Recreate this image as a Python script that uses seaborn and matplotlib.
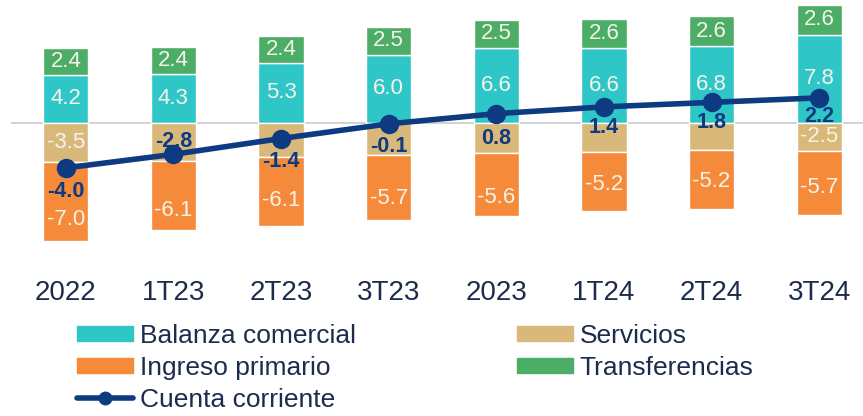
import numpy as np
import seaborn as sns
import matplotlib.pyplot as plt
from matplotlib.lines import Line2D
from matplotlib.patches import Patch

periods = ['2022', '1T23', '2T23', '3T23', '2023', '1T24', '2T24', '3T24']
balanza = [4.2, 4.3, 5.3, 6.0, 6.6, 6.6, 6.8, 7.8]
transferencias = [2.4, 2.4, 2.4, 2.5, 2.5, 2.6, 2.6, 2.6]
servicios = [-3.5, -3.4, -3.0, -2.9, -2.7, -2.6, -2.4, -2.5]
ingreso = [-7.0, -6.1, -6.1, -5.7, -5.6, -5.2, -5.2, -5.7]
cuenta = [-4.0, -2.8, -1.4, -0.1, 0.8, 1.4, 1.8, 2.2]
# servicios labels hidden behind the cuenta corriente labels in most bars
serv_show = [True, False, False, False, False, False, False, True]

# label nudges (points)
cc_off = [-17, 9, -16.5, -16, -18, -15, -14.5, -13.5]
ing_off = [-13, -11, -7, -8, -9, -2, -2, -3]

c_bal = '#2fc6c8'
c_tra = '#4cad66'
c_ser = '#d9b97a'
c_ing = '#f58a3a'
c_cc = '#0d3a80'
c_txt = '#1e2b4c'
c_lab = '#f6f4ea'

sns.set_style('white')
plt.rcParams['font.family'] = ['Liberation Sans', 'DejaVu Sans']

fig = plt.figure(figsize=(8.63, 4.16), dpi=100)
ax = fig.add_axes([12 / 863, 0, 861 / 863, 1])

bw = 0.42
x = np.arange(len(periods))
bal = np.array(balanza)
ser = np.array(servicios)

sns.barplot(x=periods, y=balanza, color=c_bal, width=bw, saturation=1, errorbar=None, ax=ax)
sns.barplot(x=periods, y=transferencias, bottom=bal, color=c_tra, width=bw, saturation=1, errorbar=None, ax=ax)
sns.barplot(x=periods, y=servicios, color=c_ser, width=bw, saturation=1, errorbar=None, ax=ax)
sns.barplot(x=periods, y=ingreso, bottom=ser, color=c_ing, width=bw, saturation=1, errorbar=None, ax=ax)

sns.lineplot(x=x, y=cuenta, color=c_cc, lw=4, marker='o', markersize=14,
             markeredgewidth=0, ax=ax, zorder=5)

# segment labels
for i in range(len(periods)):
    ax.text(i, balanza[i] / 2, f'{balanza[i]:.1f}', ha='center', va='center', color=c_lab, fontsize=16)
    ax.text(i, balanza[i] + transferencias[i] / 2, f'{transferencias[i]:.1f}', ha='center', va='center',
            color=c_lab, fontsize=16)
    if serv_show[i]:
        ax.text(i, servicios[i] / 2, f'{servicios[i]:.1f}', ha='center', va='center', color=c_lab, fontsize=16)
    ax.annotate(f'{ingreso[i]:.1f}', (i, servicios[i] + ingreso[i] / 2), xytext=(0, ing_off[i]),
                textcoords='offset points', ha='center', va='center', color=c_lab, fontsize=16)
    ax.annotate(f'{cuenta[i]:.1f}', (i, cuenta[i]), xytext=(0, cc_off[i]), textcoords='offset points',
                ha='center', va='center', color=c_cc, fontsize=15.5, fontweight='bold', zorder=6)

px_unit = 11.3
ax.set_ylim(-(416 - 122.7) / px_unit, 122.7 / px_unit)
ax.set_xlim(-0.5, len(periods) - 0.5)

for s in ['top', 'right', 'left']:
    ax.spines[s].set_visible(False)
ax.spines['bottom'].set_position(('data', 0))
ax.spines['bottom'].set_color('#cfcfcf')
ax.spines['bottom'].set_linewidth(1.3)
ax.spines['bottom'].set_zorder(0.5)
ax.set_yticks([])
ax.set_xticks(x, periods)
ax.set_xticks(np.arange(len(periods) + 1) - 0.5, minor=True)
ax.tick_params(axis='x', which='major', length=0, pad=113, labelsize=20, labelcolor=c_txt)
ax.tick_params(axis='x', which='minor', length=7, width=1.3, color='#cfcfcf', direction='out')
ax.set_xlabel('')
ax.set_ylabel('')

handles = [
    Patch(color=c_bal, label='Balanza comercial'),
    Patch(color=c_ing, label='Ingreso primario'),
    Line2D([], [], color=c_cc, lw=4, marker='o', markersize=10, markeredgewidth=0, label='Cuenta corriente'),
    Patch(color=c_ser, label='Servicios'),
    Patch(color=c_tra, label='Transferencias'),
]
fig.legend(handles=handles, ncol=2, loc='upper left', bbox_to_anchor=(77 / 863, 1 - 324 / 416),
           frameon=False, fontsize=19, labelcolor=c_txt, borderpad=0, borderaxespad=0,
           handlelength=2.12, handleheight=0.49, handletextpad=0.26, labelspacing=0.3,
           columnspacing=6.1)

fig.savefig('out.png', dpi=100)
